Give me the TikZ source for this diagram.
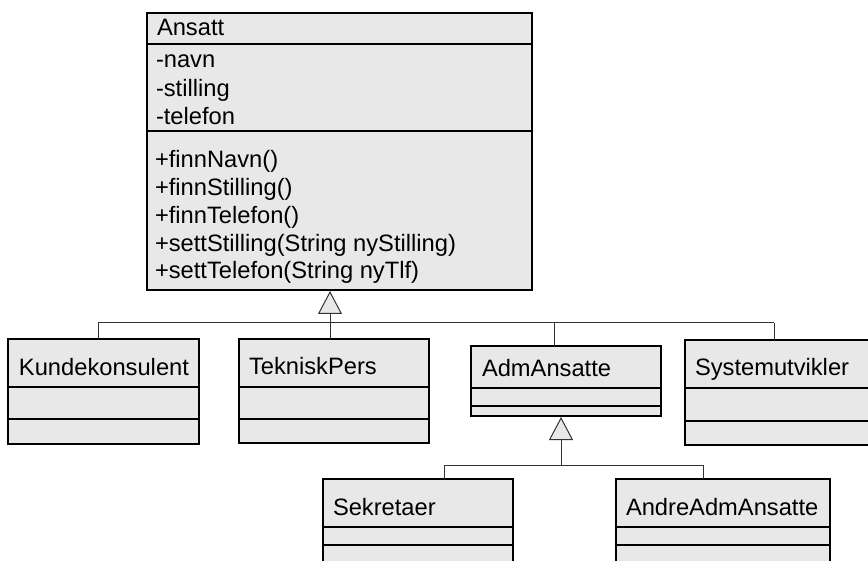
\documentclass[tikz,border=0pt]{standalone}
\usepackage{fontspec}
\setmainfont{Liberation Sans}
\usetikzlibrary{arrows.meta}
\definecolor{boxfill}{RGB}{232,232,232}
\tikzset{
  classbox/.style={draw=black, fill=boxfill, line width=1.1pt, inner sep=0pt,
    outer sep=0pt, anchor=north west, rectangle},
  divider/.style={draw=black, line width=1.1pt},
  label/.style={anchor=base west, inner sep=0pt, outer sep=0pt,
    font=\fontsize{23.7}{28}\selectfont},
  conn/.style={draw=black!80, line width=1pt},
  gen/.style={conn, shorten >=1pt,
    -{Triangle[open, fill=boxfill, length=23pt, width=24pt]}},
}
\begin{document}
\begin{tikzpicture}[x=1pt, y=-1pt]
\useasboundingbox (0,0) rectangle (868,561);
\clip (0,0) rectangle (868,561);

% superclass Ansatt
\node[classbox, minimum width=385pt, minimum height=277pt] (ansatt) at (147,13) {};
\draw[divider] (147,44) -- (533,44);
\draw[divider] (147,131) -- (532,131);
\node[label] (ansattname) at (157,36) {Ansatt};
\node[label] (a1) at (156,68) {-navn};
\node[label] (a2) at (156,96.5) {-stilling};
\node[label] (a3) at (156,125) {-telefon};
\node[label] (m1) at (155,168) {+finnNavn()};
\node[label] (m2) at (155,195.75) {+finnStilling()};
\node[label] (m3) at (155,223.5) {+finnTelefon()};
\node[label] (m4) at (155,251.25) {+settStilling(String nyStilling)};
\node[label] (m5) at (155,279) {+settTelefon(String nyTlf)};

% first level subclasses
\node[classbox, minimum width=191pt, minimum height=105pt] (kunde) at (8,339) {};
\draw[divider] (8,387) -- (199,387);
\draw[divider] (8,419) -- (199,419);
\node[label] (kundename) at (19,376) {Kundekonsulent};

\node[classbox, minimum width=190pt, minimum height=104pt] (tekn) at (239,339) {};
\draw[divider] (239,387) -- (429,387);
\draw[divider] (239,419) -- (429,419);
\node[label] (teknname) at (249,375) {TekniskPers};

\node[classbox, minimum width=190pt, minimum height=70pt] (adm) at (471,346) {};
\draw[divider] (471,388) -- (661,388);
\draw[divider] (471,406) -- (661,406);
\node[label] (admname) at (482,377) {AdmAnsatte};

\node[classbox, minimum width=215pt, minimum height=105pt] (sysut) at (685,340) {};
\draw[divider] (685,388) -- (900,388);
\draw[divider] (685,421) -- (900,421);
\node[label] (sysutname) at (695,376) {Systemutvikler};

% second level subclasses
\node[classbox, minimum width=190pt, minimum height=120pt] (sekr) at (323,479) {};
\draw[divider] (323,527) -- (513,527);
\draw[divider] (323,545) -- (513,545);
\node[label] (sekrname) at (333,515) {Sekretaer};

\node[classbox, minimum width=214pt, minimum height=120pt] (andre) at (616,479) {};
\draw[divider] (616,527) -- (830,527);
\draw[divider] (616,545) -- (830,545);
\node[label] (andrename) at (626,515) {AndreAdmAnsatte};

% generalisation tree under Ansatt
\coordinate (busL) at (98,323);
\coordinate (busT) at (330,323);
\coordinate (busA) at (554,323);
\coordinate (busR) at (774,323);
\draw[conn] (busL) -- (busR);
\draw[conn] (busL) -- (busL |- kunde.north);
\draw[conn] (busA) -- (busA |- adm.north);
\draw[conn] (busR) -- (busR |- sysut.north);
\draw[gen] (busT |- tekn.north) -- (busT |- ansatt.south);

% generalisation tree under AdmAnsatte
\coordinate (subL) at (444,465);
\coordinate (subT) at (561,465);
\coordinate (subR) at (703,465);
\draw[conn] (subL) -- (subR);
\draw[conn] (subL) -- (subL |- sekr.north);
\draw[conn] (subR) -- (subR |- andre.north);
\draw[gen] (subT) -- (subT |- adm.south);
\end{tikzpicture}
\end{document}
